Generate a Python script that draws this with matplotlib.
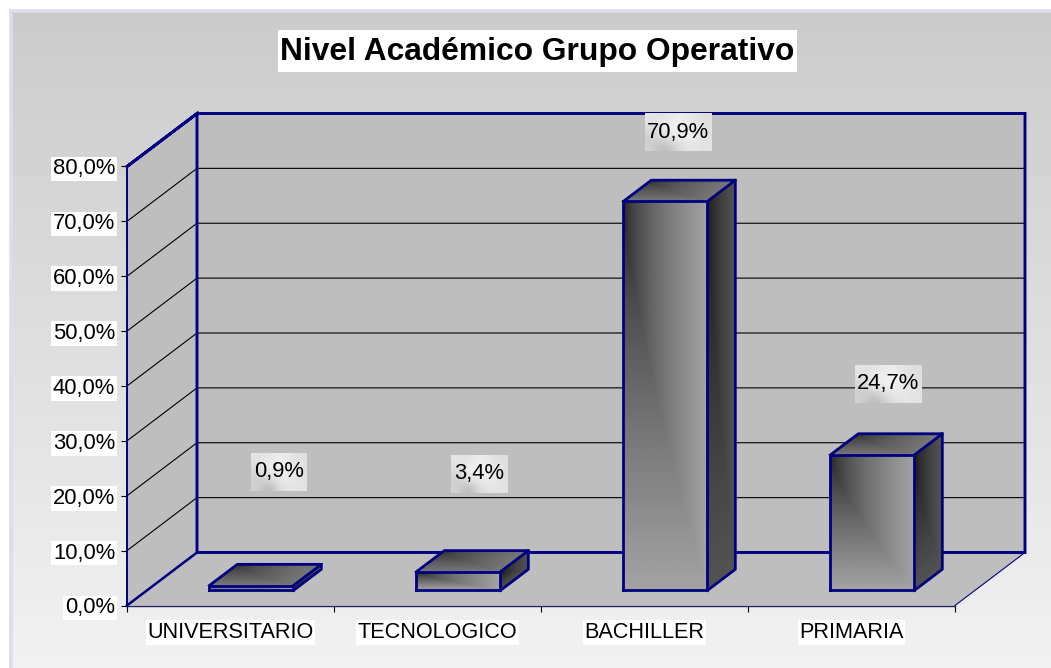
import numpy as np
import matplotlib
matplotlib.use("Agg")
import matplotlib.pyplot as plt
from matplotlib.patches import Rectangle

categories = ["UNIVERSITARIO", "TECNOLOGICO", "BACHILLER", "PRIMARIA"]
values = [0.9, 3.4, 70.9, 24.7]
value_labels = ["0,9%", "3,4%", "70,9%", "24,7%"]
y_ticks = [0, 10, 20, 30, 40, 50, 60, 70, 80]
y_tick_labels = ["0,0%", "10,0%", "20,0%", "30,0%", "40,0%", "50,0%", "60,0%", "70,0%", "80,0%"]
# where each value label sits relative to the top of its bar, pixels
label_offsets = [(29, 114), (22, 98), (14, 69), (17, 71)]
# mottled fill behind the value labels
label_texture = [[0.90, 0.88, 0.93, 0.90, 0.86],
                 [0.87, 0.93, 0.95, 0.92, 0.88],
                 [0.84, 0.92, 0.94, 0.93, 0.87],
                 [0.80, 0.84, 0.91, 0.92, 0.88],
                 [0.83, 0.70, 0.86, 0.90, 0.89]]

W, H = 1051, 668
NAVY = "#000080"
WALL = "#bebebe"
plt.rcParams["font.family"] = ["Liberation Sans", "DejaVu Sans"]

fig = plt.figure(figsize=(W / 100, H / 100), dpi=100, facecolor="white")

# panel behind the chart
bg = fig.add_axes([0, 0, 1, 1], zorder=0)
grad = np.linspace(0.795, 0.945, 200).reshape(-1, 1)
bg.imshow(grad, extent=(12, W, H, 12), cmap="gray", vmin=0, vmax=1, aspect="auto")
bg.set_xlim(0, W)
bg.set_ylim(H, 0)
bg.axis("off")
bg.plot([10.5, 10.5], [9, H], color="#dcdcf0", lw=2.6, solid_capstyle="butt")
bg.plot([9, W], [10.5, 10.5], color="#dcdcf0", lw=2.6, solid_capstyle="butt")
bg.add_patch(Rectangle((278, 30), 519, 42, facecolor="white", edgecolor="none"))

# front plane of the 3d box is the real axes
ax = fig.add_axes([127 / W, (H - 605.5) / H, 828 / W, 439 / H], zorder=1)
ax.set_xlim(0, 4)
ax.set_ylim(0, 80)
ax.patch.set_alpha(0)
for s in ax.spines.values():
    s.set_visible(False)

wall_dx = 70 / 207
wall_dy = 9.66
top = 80

ax.fill([0, wall_dx, wall_dx, 0], [0, wall_dy, top + wall_dy, top], color=WALL, lw=0, clip_on=False, zorder=1)
ax.fill([wall_dx, 4 + wall_dx, 4 + wall_dx, wall_dx], [wall_dy, wall_dy, top + wall_dy, top + wall_dy],
        color=WALL, lw=0, clip_on=False, zorder=1)
ax.fill([0, 4, 4 + wall_dx, wall_dx], [0, 0, wall_dy, wall_dy], color=WALL, lw=0, clip_on=False, zorder=1)

for t in y_ticks[1:-1]:
    ax.plot([0, wall_dx, 4 + wall_dx], [t, t + wall_dy, t + wall_dy], color="black", lw=0.8, clip_on=False, zorder=2)

# box outline
ax.plot([0, 0], [0, top], color=NAVY, lw=1.4, clip_on=False, zorder=3)
ax.plot([0, wall_dx, 4 + wall_dx, 4 + wall_dx, wall_dx, wall_dx, 0],
        [top, top + wall_dy, top + wall_dy, wall_dy, wall_dy, top + wall_dy, top],
        color=NAVY, lw=2.1, clip_on=False, zorder=3, solid_joinstyle="miter")
ax.plot([0, wall_dx], [0, wall_dy], color=NAVY, lw=1.8, clip_on=False, zorder=3)
ax.plot([0, 4], [0, 0], color="#20205a", lw=1.0, clip_on=False, zorder=3)
ax.plot([4, 4 + wall_dx], [0, wall_dy], color=NAVY, lw=0.8, clip_on=False, zorder=3)


def shade(low, high):
    # gradient with a diagonal crease, dark at the top left corner
    u, v = np.meshgrid(np.linspace(0, 1, 60), np.linspace(0, 1, 60))
    t = np.maximum(u ** 0.6, v ** 0.8)
    return low + (high - low) * t, u, v


bar_w = 84 / 207
front = 0.283
depth = 0.4
nudge = 1.0 / 207
for i, val in enumerate(values):
    x0 = i + 0.5 - bar_w / 2 + front * wall_dx + nudge
    x1 = x0 + bar_w
    y0 = front * wall_dy
    y1 = y0 + val
    ddx = depth * wall_dx
    ddy = depth * wall_dy

    # front face
    c, u, v = shade(0.12, 0.64)
    ax.pcolormesh(x0 + u * bar_w, y1 - v * val, c, cmap="gray", vmin=0, vmax=1, shading="gouraud",
                  clip_on=False, zorder=4)
    # right side
    c, u, v = shade(0.08, 0.33)
    ax.pcolormesh(x1 + u * ddx, y1 + u * ddy - v * val, c, cmap="gray", vmin=0, vmax=1, shading="gouraud",
                  clip_on=False, zorder=4)
    # top
    c, u, v = shade(0.18, 0.47)
    ax.pcolormesh(x0 + (1 - v) * ddx + u * bar_w, y1 + (1 - v) * ddy, c, cmap="gray", vmin=0, vmax=1,
                  shading="gouraud", clip_on=False, zorder=4)

    ax.plot([x0, x1, x1, x0, x0], [y0, y0, y1, y1, y0], color=NAVY, lw=2.0, clip_on=False, zorder=5,
            solid_joinstyle="miter")
    ax.plot([x0, x0 + ddx, x1 + ddx, x1], [y1, y1 + ddy, y1 + ddy, y1], color=NAVY, lw=2.0, clip_on=False, zorder=5)
    ax.plot([x1 + ddx, x1 + ddx, x1], [y1 + ddy, y0 + ddy, y0], color=NAVY, lw=2.0, clip_on=False, zorder=5)

ax.set_xticks([0, 1, 2, 3, 4])
ax.set_xticklabels([])
ax.set_yticks(y_ticks)
ax.set_yticklabels(y_tick_labels, fontsize=15.8, color="black",
                   bbox=dict(facecolor="white", edgecolor="none", pad=1.2))
ax.tick_params(axis="both", length=4.5, width=0.8, color="black")
ax.tick_params(axis="y", pad=4)

for i, name in enumerate(categories):
    ax.annotate(name, (i + 0.5, 0), xycoords="data", xytext=(0, -27), textcoords="offset pixels",
                ha="center", va="center", fontsize=15.55, color="black", annotation_clip=False,
                bbox=dict(facecolor="white", edgecolor="none", pad=1.2))

fig.text(537.5 / W, (H - 52) / H, "Nivel Académico Grupo Operativo", ha="center", va="center", fontsize=22.9,
         fontweight="bold", color="black", zorder=6)

# value labels on small textured boxes
fig.canvas.draw()
for i, val in enumerate(values):
    cx = i + 0.5 + front * wall_dx
    px, py = ax.transData.transform((cx, front * wall_dy + val))
    ox, oy = label_offsets[i]
    bw = 56 if len(value_labels[i]) == 4 else 67
    box = fig.add_axes([(px + ox - bw / 2) / W, (py + oy - 19) / H, bw / W, 38 / H], zorder=7)
    box.imshow(label_texture, cmap="gray", vmin=0, vmax=1, aspect="auto", interpolation="bicubic")
    box.axis("off")
    box.text(0.5, 0.5, value_labels[i], transform=box.transAxes, ha="center", va="center",
             fontsize=15.8, color="black")

plt.savefig("out.png", dpi=100, facecolor="white")
